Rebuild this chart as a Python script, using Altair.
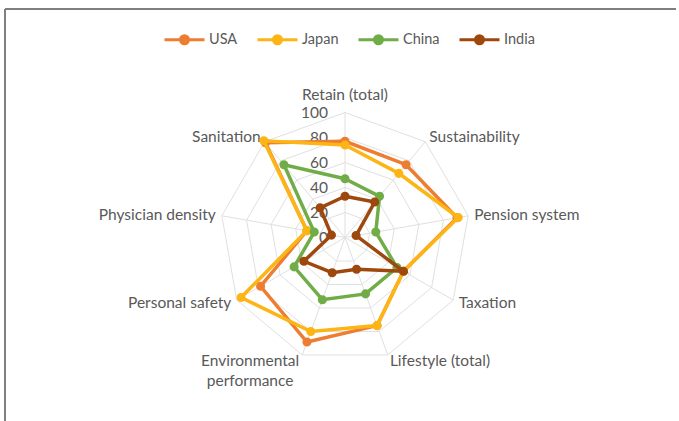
import altair as alt
import pandas as pd

categories = ["Retain (total)", "Sustainability", "Pension system", "Taxation",
              "Lifestyle (total)", "Environmental\nperformance", "Personal safety",
              "Physician density", "Sanitation"]
countries = ["USA", "Japan", "China", "India"]
usa = [77, 76, 91, 54, 75, 89, 78, 31, 99]
japan = [74, 67, 92, 54, 75, 80, 96, 31, 101]
china = [47, 43, 25, 48, 48, 53, 47, 25, 76]
india = [33, 37, 9, 54, 27, 30, 38, 11, 31]
colors = ["#ED7D31", "#FDB515", "#70AD47", "#9E480E"]
grid_levels = [20, 40, 60, 80, 100]
tick_values = [0, 20, 40, 60, 80, 100]

N = len(categories)
FONT = "Lato"
FS = 15.5
TXT = "#595959"
GRID = "#E0E0E0"

xs = alt.Scale(domain=[-276, 267.2], nice=False, zero=False)
ys = alt.Scale(domain=[-146.8, 190], nice=False, zero=False)

ang = f"datum.idx * 2 * PI / {N}"

sym = "M-1,0L1,0M-0.2,0A0.2,0.2,0,1,0,0.2,0A0.2,0.2,0,1,0,-0.2,0Z"
leg = alt.Legend(title=None, orient="none", legendX=163, legendY=18, direction="horizontal",
                 symbolType=sym, symbolSize=1600, symbolStrokeWidth=3,
                 labelFont=FONT, labelFontSize=14.5, labelColor=TXT, labelOffset=3,
                 columnPadding=13)
cscale = alt.Scale(domain=countries, range=colors)

# grid rings
ring_rows = [{"level": lv, "idx": i} for lv in grid_levels for i in range(N + 1)]
ring_df = pd.DataFrame(ring_rows)
rings = alt.Chart(ring_df).mark_line(color=GRID, strokeWidth=1).transform_calculate(
    x=f"datum.level * sin({ang})", y=f"datum.level * cos({ang})"
).encode(x=alt.X("x:Q", scale=xs, axis=None), y=alt.Y("y:Q", scale=ys, axis=None),
         detail="level:N", order="idx:Q")

spoke_df = pd.DataFrame({"idx": list(range(N)), "top": [grid_levels[-1]] * N})
spokes = alt.Chart(spoke_df).mark_rule(color=GRID, strokeWidth=1).transform_calculate(
    x=f"datum.top * sin({ang})", y=f"datum.top * cos({ang})", x0="0", y0="0"
).encode(x=alt.X("x0:Q", scale=xs, axis=None), y=alt.Y("y0:Q", scale=ys, axis=None),
         x2="x:Q", y2="y:Q")

tick_df = pd.DataFrame({"v": tick_values, "label": [str(t) for t in tick_values]})
ticks = alt.Chart(tick_df).mark_text(align="right", baseline="middle", dx=-17, font=FONT,
                                     fontSize=FS, color=TXT).transform_calculate(x0="0").encode(
    x=alt.X("x0:Q", scale=xs, axis=None), y=alt.Y("v:Q", scale=ys, axis=None), text="label:N")

cat_df = pd.DataFrame({"cat": categories, "idx": list(range(N))})
def cat_layer(cond, align, r, dx=0):
    return alt.Chart(cat_df).mark_text(align=align, baseline="middle", font=FONT, fontSize=FS,
                                       color=TXT, lineBreak="\n", lineHeight=20, dx=dx).transform_calculate(
        s=f"sin({ang})", ml="indexof(datum.cat, '\\n') >= 0 ? 1 : 0",
        x=f"{r} * sin({ang})", y=f"{r} * cos({ang})"
    ).transform_filter(cond).encode(
        x=alt.X("x:Q", scale=xs, axis=None), y=alt.Y("y:Q", scale=ys, axis=None), text="cat:N")

cats = [cat_layer("datum.s > 0.1", "left", 105),
        cat_layer("datum.s < -0.1 && datum.ml == 0", "right", 105),
        cat_layer("datum.s < -0.1 && datum.ml == 1", "center", 105, dx=-50),
        cat_layer("abs(datum.s) <= 0.1", "center", 114)]

series_layers = []
for c, vals in zip(countries, [usa, japan, china, india]):
    df = pd.DataFrame({"country": c, "idx": list(range(N + 1)), "value": vals + [vals[0]]})
    base = alt.Chart(df).transform_calculate(
        x=f"datum.value * sin({ang})", y=f"datum.value * cos({ang})")
    ln = base.mark_line(strokeWidth=3.5).encode(
        x=alt.X("x:Q", scale=xs, axis=None), y=alt.Y("y:Q", scale=ys, axis=None),
        order="idx:Q", stroke=alt.Stroke("country:N", scale=cscale, legend=leg))
    pt = base.transform_filter(f"datum.idx < {N}").mark_point(filled=True, size=50, opacity=1).encode(
        x=alt.X("x:Q", scale=xs, axis=None), y=alt.Y("y:Q", scale=ys, axis=None),
        fill=alt.Fill("country:N", scale=cscale, legend=leg),
        stroke=alt.Stroke("country:N", scale=cscale, legend=leg))
    series_layers += [ln, pt]

border_top = alt.Chart(pd.DataFrame({"a": [0]})).mark_rule(color="#7F7F7F", strokeWidth=2).encode(
    x=alt.value(5), x2=alt.value(676), y=alt.value(9))
border_left = alt.Chart(pd.DataFrame({"a": [0]})).mark_rule(color="#7F7F7F", strokeWidth=2).encode(
    x=alt.value(5), y=alt.value(9), y2=alt.value(421))

chart = alt.layer(border_top, border_left, rings, spokes, *cats, ticks, *series_layers).properties(
    width=679, height=421, autosize="none", padding=0
).configure_view(stroke=None)

chart.save("out.html", embed_options={"renderer": "svg", "actions": False})
